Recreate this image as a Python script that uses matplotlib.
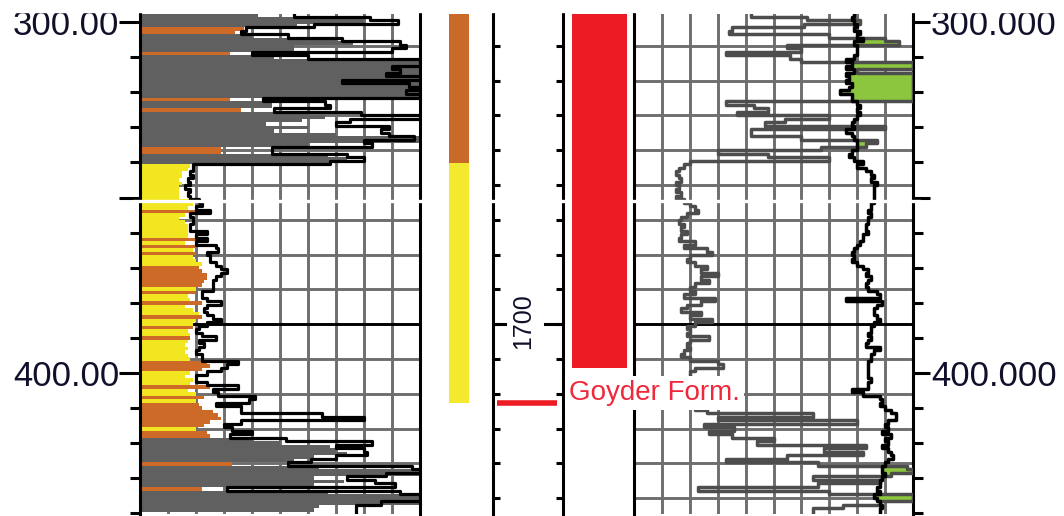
import numpy as np
import matplotlib.pyplot as plt
from matplotlib.patches import Rectangle

plt.rcParams['font.family'] = ['Liberation Sans', 'DejaVu Sans']

# depth samples (m), one per metre
depth = np.arange(298, 440)

# left track: lithology code per sample, fill extent and curve (0-100 of track width)
lith = ("GGGGOOGGGG" "GOGGGGGGGG" "GGGGOGGOGG" "GGGGGGGGOO" "GGGYYYYYYY"
        "YYYYYYOYYY" "YYYYOYOYOY" "YYOOOOOOYO" "YYOYYYOYYO" "YYOYYYYYYO"
        "OOYYYYOYYO" "YOOOOOOOYO" "OGGGGGGGOG" "GGGGGOGGGG" "GG")
gr_fill = [42, 80, 80, 56, 37, 34, 40, 70, 76, 55,
           55, 32, 48, 100, 100, 100, 100, 100, 100, 100,
           100, 100, 100, 100, 32, 47, 47, 36, 60, 66,
           58, 45, 60, 48, 70, 100, 100, 60, 29, 29,
           67, 74, 68, 18, 17, 15, 15, 14, 15, 14,
           14, 14, 14, 18, 19, 17, 21, 16, 14, 16,
           17, 17, 17, 17, 20, 16, 20, 19, 20, 19,
           20, 22, 21, 22, 24, 24, 23, 22, 20, 20,
           17, 18, 22, 16, 19, 21, 22, 20, 19, 19,
           17, 18, 18, 17, 16, 17, 16, 17, 18, 24,
           25, 22, 18, 16, 19, 18, 25, 17, 20, 23,
           20, 21, 22, 26, 28, 29, 25, 23, 20, 24,
           25, 40, 50, 68, 70, 74, 62, 55, 33, 64,
           100, 100, 62, 73, 62, 22, 67, 100, 100, 100,
           64, 62]
gr_line = [55, 82, 92, 62, 38, 36, 53, 72, 93, 95,
           90, 40, 60, 100, 100, 90, 93, 88, 100, 72,
           96, 100, 95, 100, 44, 66, 68, 48, 79, 100,
           75, 70, 89, 86, 89, 98, 80, 83, 47, 47,
           74, 80, 68, 19, 19, 18, 19, 17, 18, 16,
           18, 17, 18, 21, 22, 20, 25, 18, 19, 19,
           18, 18, 24, 20, 24, 20, 27, 28, 24, 25,
           25, 27, 29, 31, 29, 27, 26, 26, 26, 22,
           22, 24, 29, 24, 23, 24, 26, 29, 24, 21,
           20, 22, 27, 21, 23, 21, 20, 22, 22, 35,
           31, 29, 24, 20, 20, 24, 35, 26, 28, 41,
           39, 27, 36, 36, 65, 80, 36, 30, 33, 40,
           32, 52, 83, 70, 80, 81, 70, 61, 53, 97,
           100, 88, 74, 84, 91, 31, 93, 100, 100, 86,
           77, 77]

# right track: grey curve and black curve (0-100 of track width)
curve_grey = [42, 62, 81, 61, 35, 34, 70, 90, 95, 55,
              60, 33, 56, 60, 100, 100, 80, 100, 100, 100,
              100, 100, 100, 100, 100, 33, 43, 48, 37, 70,
              54, 47, 90, 42, 42, 60, 87, 83, 67, 30,
              48, 70, 20, 18, 16, 15, 16, 17, 15, 16,
              15, 17, 15, 18, 20, 22, 23, 19, 17, 16,
              18, 17, 19, 17, 16, 22, 18, 26, 28, 20,
              19, 22, 26, 24, 30, 24, 27, 22, 20, 22,
              18, 29, 24, 19, 17, 24, 20, 28, 22, 19,
              20, 19, 27, 20, 19, 20, 18, 17, 20, 30,
              32, 22, 20, 20, 20, 20, 20, 20, 20, 20,
              20, 20, 22, 26, 64, 30, 80, 25, 36, 27,
              35, 50, 44, 83, 68, 82, 55, 33, 66, 98,
              100, 92, 64, 88, 66, 23, 70, 100, 100, 88,
              75, 64]
curve_black = [79, 78, 79, 80, 79, 81, 80, 82, 79, 80,
               80, 80, 79, 76, 78, 76, 79, 76, 77, 76,
               78, 77, 74, 78, 78, 80, 81, 80, 81, 80,
               79, 78, 79, 76, 78, 79, 80, 80, 80, 78,
               77, 79, 82, 80, 83, 85, 86, 85, 87, 86,
               86, 86, 86, 86, 85, 85, 84, 85, 84, 84,
               83, 83, 84, 82, 82, 81, 80, 79, 78, 79,
               78, 80, 82, 84, 83, 85, 84, 83, 84, 87,
               88, 76, 89, 87, 86, 86, 87, 88, 86, 85,
               85, 84, 85, 84, 83, 88, 86, 85, 85, 84,
               84, 84, 84, 84, 85, 84, 84, 78, 82, 88,
               89, 88, 90, 92, 94, 94, 91, 90, 91, 89,
               92, 90, 91, 89, 91, 92, 93, 91, 90, 89,
               89, 90, 89, 88, 88, 87, 88, 86, 87, 88,
               89, 88]

# middle column: lithology strip, red zone, formation pick
strip_tops = [297.7, 340.2]
strip_bases = [340.2, 408.5]
strip_colors = ['#c96a28', '#f3ea30']
zone_top, zone_base = 297.7, 398.6
formation_name = "Goyder Form."
formation_depth = 408.5

# secondary scale shown in the grid / middle depth track
grid_values = np.arange(1620, 1760, 10)
grid_ref_value, grid_ref_depth, grid_scale = 1700, 386.1, 0.992
grid_depths = grid_ref_depth + (grid_values - grid_ref_value) * grid_scale
break_depth = 351.0

lith_colors = {'G': '#5f605f', 'O': '#cd6a27', 'Y': '#f1e61f'}
grid_col = '#6e6e6e'

W, H = 1064, 516
TOP, BOT = 297.7, 440.05
Y0, Y1 = 14, 513.5

fig = plt.figure(figsize=(W / 100, H / 100), dpi=100)


def add_track(x0, x1):
    ax = fig.add_axes([x0 / W, 1 - Y1 / H, (x1 - x0) / W, (Y1 - Y0) / H])
    ax.set_ylim(BOT, TOP)
    return ax


def step_xy(vals, d):
    x = np.repeat(np.asarray(vals, float), 2)
    y = np.column_stack([d - 0.5, d + 0.5]).ravel()
    return x, y


def draw_grid(ax):
    ax.set_xlim(0, 100)
    for v in range(10, 100, 10):
        ax.axvline(v, color=grid_col, lw=2.1, zorder=1)
    for val, gd in zip(grid_values, grid_depths):
        col = 'black' if val == grid_ref_value else grid_col
        ax.axhline(gd, color=col, lw=2.1, zorder=1)
    for s in ['top', 'bottom']:
        ax.spines[s].set_visible(False)
    for s in ['left', 'right']:
        ax.spines[s].set_linewidth(2.2)
    ax.set_xticks([])


def white_break(ax):
    ax.plot([-0.02, 1.02], [break_depth, break_depth], color='white', lw=2.4,
            transform=ax.get_yaxis_transform(), clip_on=False, zorder=6)


major = [300, 350, 400]
minor = [d for d in range(310, 441, 10) if d not in major]

# left track
ax1 = add_track(140, 420)
draw_grid(ax1)
ax1.barh(depth, gr_fill, height=1.0, color=[lith_colors[c] for c in lith],
         linewidth=0, zorder=2)
x, y = step_xy(gr_line, depth)
ax1.plot(x, y, color='black', lw=2.3, zorder=3)
white_break(ax1)
ax1.set_yticks(major)
ax1.set_yticklabels(['300.00', '', '400.00'])
ax1.set_yticks(minor, minor=True)
ax1.tick_params(axis='y', which='major', length=15, width=2.2, pad=0,
                labelsize=25, labelcolor='#10102a')
ax1.tick_params(axis='y', which='minor', length=7, width=2.2)

# right track
ax3 = add_track(634, 913)
draw_grid(ax3)
g = np.array(curve_grey, float)
b = np.array(curve_black, float)
cross = g > b
ax3.barh(depth[cross], (g - b)[cross], left=b[cross], height=1.0,
         color='#8cc63e', linewidth=0, zorder=2)
x, y = step_xy(g, depth)
ax3.plot(x, y, color='#4d4d4d', lw=2.5, zorder=3)
x, y = step_xy(b, depth)
ax3.plot(x, y, color='black', lw=2.5, zorder=4)
white_break(ax3)
ax3.yaxis.tick_right()
ax3.set_yticks(major)
ax3.set_yticklabels(['300.000', '', '400.000'])
ax3.set_yticks(minor, minor=True)
ax3.tick_params(axis='y', which='major', length=12, width=2.2, pad=1,
                labelsize=25, labelcolor='#10102a')
ax3.tick_params(axis='y', which='minor', length=7, width=2.2)

# middle column
axm = add_track(430, 634)
axm.set_xlim(430, 634)
axm.axis('off')
for t, bs, c in zip(strip_tops, strip_bases, strip_colors):
    axm.bar(459, bs - t, width=20, bottom=t, color=c, linewidth=0)
axm.bar(599.5, zone_base - zone_top, width=55, bottom=zone_top,
        color='#ec1c24', linewidth=0)
axm.plot([497, 557], [formation_depth, formation_depth], color='#ec1c24',
         lw=4, solid_capstyle='butt')

# depth track
ax2 = add_track(493, 563)
ax2.set_xlim(0, 1)
for s in ['top', 'bottom']:
    ax2.spines[s].set_visible(False)
for s in ['left', 'right']:
    ax2.spines[s].set_linewidth(2.2)
ax2.patch.set_alpha(0)
ax2.set_xticks([])
ax2.set_yticks(grid_depths)
ax2.set_yticklabels([])
ax2.tick_params(axis='y', direction='in', left=True, right=True, length=5,
                width=2.2)
tr = ax2.get_yaxis_transform()
ax2.plot([0.74, 1], [grid_ref_depth] * 2, color='black', lw=2.2, transform=tr)
ax2.plot([0, 0.17], [grid_ref_depth] * 2, color='black', lw=2.2, transform=tr)
ax2.text(0.43, grid_ref_depth - 0.8, str(grid_ref_value), transform=tr,
         rotation=90, ha='center', va='center', fontsize=18, color='#10102a')
white_break(ax2)

fig.text(569 / W, 1 - 393 / H, formation_name, ha='left', va='center',
         fontsize=20, color='#f0283c',
         bbox=dict(facecolor='white', edgecolor='none', pad=3))

fig.add_artist(Rectangle((0, 1 - 12 / H), 1, 12 / H, transform=fig.transFigure,
                         color='white', zorder=20))

fig.savefig('out.png', dpi=100)
